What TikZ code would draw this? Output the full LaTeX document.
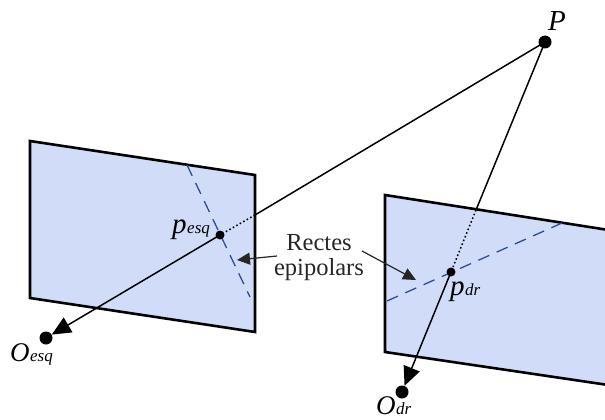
\documentclass[tikz,border=0pt]{standalone}
\usepackage{fontspec}
\setmainfont{Liberation Serif}
\usetikzlibrary{arrows.meta}
\definecolor{planefill}{HTML}{D1DCF8}
\definecolor{epiline}{HTML}{2F4C9B}
\definecolor{notecol}{HTML}{262626}
\newcommand{\sym}[3]{{\fontsize{#1}{#1}\selectfont\itshape #2}\kern0.5pt{\fontsize{17}{17}\selectfont\itshape #3}}
\tikzset{
  plane/.style={draw=black,line width=2.6pt,fill=planefill,line join=miter},
  epi/.style={draw=epiline,line width=1.3pt,dash pattern=on 12pt off 8pt},
  ray/.style={draw=black,line width=1.5pt},
  dotray/.style={draw=black,line width=1.5pt,dash pattern=on 1.6pt off 2.4pt},
  rayhead/.style={ray,-{Triangle[length=19pt,width=17pt]}},
  note/.style={draw=notecol,line width=1.2pt,-{Triangle[length=13pt,width=12pt]}},
  bigdot/.style={circle,fill=black,inner sep=0pt,minimum size=13pt},
  smalldot/.style={circle,fill=black,inner sep=0pt,minimum size=9pt},
  lab/.style={inner sep=0pt,text=black},
  notelab/.style={inner sep=0pt,align=center,text=notecol,font=\fontsize{24.5}{25}\selectfont}
}
\begin{document}
\begin{tikzpicture}[x=1pt,y=-1pt]
\useasboundingbox (0,0) rectangle (605,420);
\clip (0,0) rectangle (605,420);
\draw[plane] (30,141) -- (255,175) -- (255,332) -- (30,298) -- cycle;
\draw[plane] (385,195) -- (615,231) -- (615,386) -- (385,352) -- cycle;
\coordinate (e1a) at (187,165);
\coordinate (e1b) at (250,297);
\coordinate (e2a) at (387,301);
\coordinate (e2b) at (562,223);
\draw[epi] (e1a) -- (e1b);
\draw[epi] (e2a) -- (e2b);
\node[bigdot] (P) at (545,42) {};
\node[bigdot] (Oe) at (46,338) {};
\node[bigdot] (Od) at (402,392) {};
\node[smalldot] (pe) at (220,235) {};
\node[smalldot] (pd) at (451,272) {};
\coordinate (xe) at (255,215);
\coordinate (xd) at (476,210);
\draw[ray] (P.center) -- (xe);
\draw[dotray] (xe) -- (pe.center);
\draw[ray] (P.center) -- (xd);
\draw[dotray] (xd) -- (pd.center);
\draw[rayhead] (pe.center) -- (Oe);
\draw[rayhead] (pd.center) -- (Od);
\node[lab,anchor=base] (lP) at (557,31) {\fontsize{29}{29}\selectfont\itshape P};
\node[lab,anchor=base west] (lpe) at (172,233) {\sym{29}{p}{esq}};
\node[lab,anchor=base west] (lpd) at (450,295) {\sym{29}{p}{dr}};
\node[lab,anchor=base west] (lOe) at (10,361) {\sym{27}{O}{esq}};
\node[lab,anchor=base west] (lOd) at (376,414.5) {\sym{27}{O}{dr}};
\node[notelab] (n) at (319,258) {Rectes\\epipolars};
\coordinate (t1s) at (277,256);
\coordinate (t1e) at (237,260);
\coordinate (t2s) at (362,251);
\coordinate (t2e) at (416,280);
\draw[note] (t1s) -- (t1e);
\draw[note] (t2s) -- (t2e);
\end{tikzpicture}
\end{document}
